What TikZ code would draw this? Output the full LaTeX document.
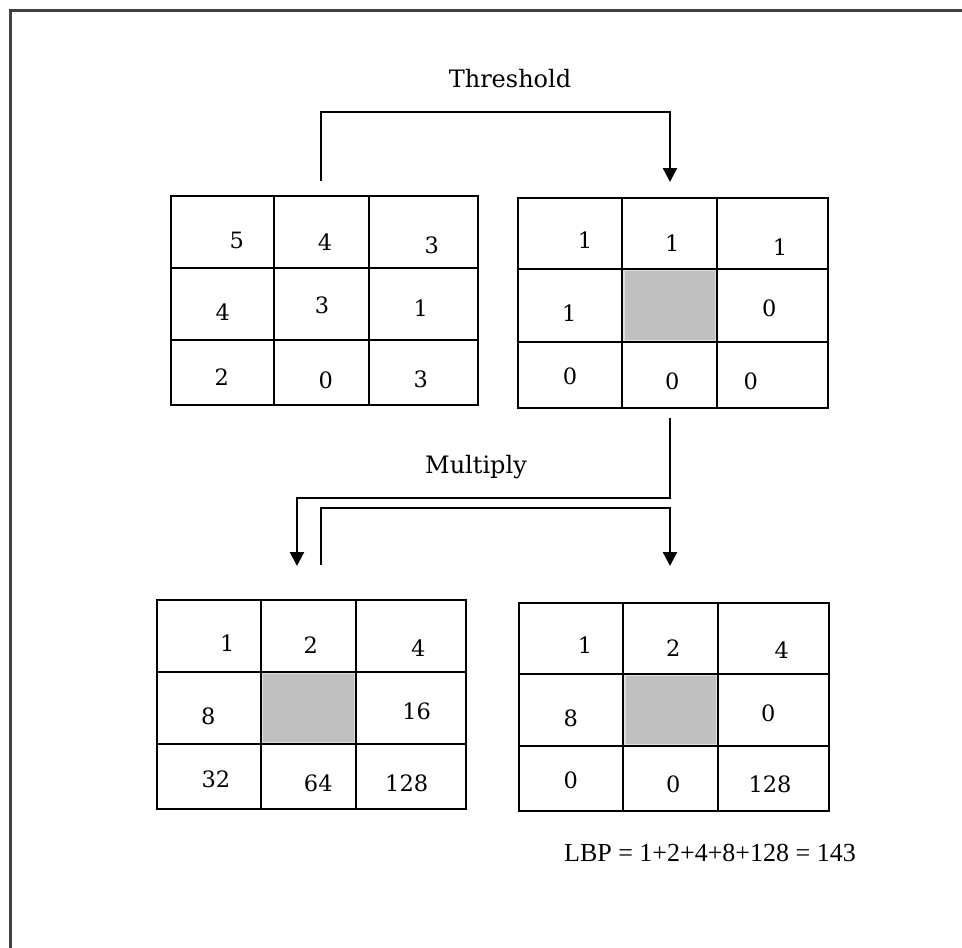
\documentclass[tikz,border=0pt]{standalone}
\usepackage{fontspec}
\setmainfont{DejaVu Serif}
\newfontfamily\lbpfont{Liberation Serif}
\usetikzlibrary{arrows.meta}
\definecolor{cellgray}{RGB}{192,192,192}
\definecolor{cellrim}{RGB}{222,222,222}
\newcommand\mygrid[9]{%
  \node[gridbox,minimum width={#5-#2},minimum height={#9-#6},anchor=north west] (#1) at (#2,#6) {};
  \draw[gridline] (#3,#6) -- (#3,#9) (#4,#6) -- (#4,#9) (#2,#7) -- (#5,#7) (#2,#8) -- (#5,#8);
}
\begin{document}
\begin{tikzpicture}[x=1pt,y=-1pt,
  gridline/.style={line width=2.2pt,black},
  gridbox/.style={draw,line width=2.2pt,inner sep=0pt,outer sep=0pt},
  conn/.style={line width=2.2pt,-{Triangle[length=14pt,width=14pt]}},
  num/.style={inner sep=0pt,font=\fontsize{22.5}{27}\selectfont},
  lbl/.style={inner sep=0pt,font=\fontsize{24}{29}\selectfont,anchor=base},
  shade/.style={fill=cellgray,draw=cellrim,line width=1.5pt}]
\useasboundingbox (0,0) rectangle (962,948);
\fill[white] (0,0) rectangle (962,948);
\draw[line width=2.5pt,black!75] (10.5,948) -- (10.5,10.5) -- (962,10.5);

% shaded centre cells
\draw[shade] (624,270.5) rectangle (716,340.5);
\draw[shade] (262.5,673.5) rectangle (354.5,743);
\draw[shade] (625,675.5) rectangle (717,745);

% grids
\mygrid{g1}{170.7}{274.3}{369}{478.3}{196}{268.3}{340}{405}
\mygrid{g2}{517.7}{622}{717}{828.3}{198.3}{269.3}{341.7}{407.7}
\mygrid{g3}{156.7}{260.7}{355.7}{466}{600}{671.7}{744}{809.3}
\mygrid{g4}{519.3}{623.3}{718}{829.3}{602.7}{674.3}{746}{811}

% grid 1 values
\node[num] (a1) at (236.7,240) {5};
\node[num] (a2) at (325,241.7) {4};
\node[num] (a3) at (431.7,245) {3};
\node[num] (a4) at (222.7,311.7) {4};
\node[num] (a5) at (322,305) {3};
\node[num] (a6) at (420.7,308) {1};
\node[num] (a7) at (221.7,376.7) {2};
\node[num] (a8) at (325.7,380) {0};
\node[num] (a9) at (420.7,379) {3};

% grid 2 values
\node[num] (b1) at (585,240) {1};
\node[num] (b2) at (672.3,243) {1};
\node[num] (b3) at (780,246.7) {1};
\node[num] (b4) at (569.3,313.3) {1};
\node[num] (b6) at (769.3,308.3) {0};
\node[num] (b7) at (570,376.7) {0};
\node[num] (b8) at (672.3,381.7) {0};
\node[num] (b9) at (750.7,381.7) {0};

% grid 3 values
\node[num] (c1) at (227.3,643.3) {1};
\node[num] (c2) at (310.7,645) {2};
\node[num] (c3) at (418.3,648.3) {4};
\node[num] (c4) at (208.3,716) {8};
\node[num] (c6) at (416.7,711.7) {16};
\node[num] (c7) at (216,779) {32};
\node[num] (c8) at (318.3,783.3) {64};
\node[num] (c9) at (406.7,783.3) {128};

% grid 4 values
\node[num] (d1) at (585,645) {1};
\node[num] (d2) at (673.3,648.3) {2};
\node[num] (d3) at (781.7,650) {4};
\node[num] (d4) at (570.7,718.3) {8};
\node[num] (d6) at (768.3,713.3) {0};
\node[num] (d7) at (570.7,780) {0};
\node[num] (d8) at (673.3,784) {0};
\node[num] (d9) at (770,784) {128};

% labels
\node[lbl] (thr) at (510,87) {Threshold};
\node[lbl] (mul) at (476,473) {Multiply};
\node[inner sep=0pt,anchor=east,font=\lbpfont\fontsize{26}{31}\selectfont] (lbp) at (856,853) {LBP = 1+2+4+8+128 = 143};

% connectors
\coordinate (thS) at (321,181);
\coordinate (thE) at (670,182);
\draw[conn] (thS) -- ++(0,-69) -| (thE);
\coordinate (m1S) at (670,418);
\coordinate (m1E) at (297,566);
\draw[conn] (m1S) -- ++(0,80) -| (m1E);
\coordinate (m2S) at (321,565);
\coordinate (m2E) at (670,566);
\draw[conn] (m2S) -- ++(0,-57) -| (m2E);
\end{tikzpicture}
\end{document}
